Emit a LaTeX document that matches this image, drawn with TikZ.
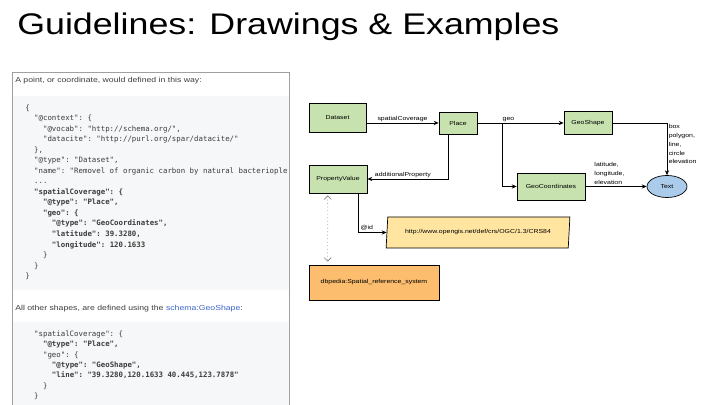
\documentclass[tikz,border=0pt]{standalone}
\usepackage{fontspec}
\setmainfont[FakeStretch=1.2]{Liberation Sans}
\setmonofont{DejaVu Sans Mono}
\usetikzlibrary{shapes.geometric, arrows.meta}

\definecolor{boxgreen}{RGB}{200,226,175}
\definecolor{urlyellow}{RGB}{255,229,160}
\definecolor{dborange}{RGB}{252,190,110}
\definecolor{textblue}{RGB}{170,204,234}
\definecolor{codebg}{RGB}{246,247,248}
\definecolor{panelgray}{RGB}{160,160,160}
\definecolor{linkblue}{RGB}{60,100,200}
\definecolor{prose}{RGB}{60,60,60}

\tikzset{
  classbox/.style={draw, line width=0.5pt, fill=boxgreen, inner sep=0pt, font=\fontsize{4.1}{5}\selectfont},
  conn/.style={draw, line width=0.5pt, -{Stealth[length=3.5pt, width=3pt]}},
  edgelabel/.style={inner sep=1pt, font=\fontsize{4.1}{6.2}\selectfont},
  codeline/.style={anchor=base west, inner sep=0pt, text=prose, font=\ttfamily\fontsize{5.25}{7.4}\selectfont},
  prosetext/.style={anchor=base west, inner sep=0pt, text=prose, font=\fontsize{5.15}{6}\selectfont}
}

\begin{document}
\begin{tikzpicture}[x=0.025cm, y=-0.025cm]

\useasboundingbox (0,0) rectangle (720,405);

\node[anchor=base west, inner sep=0pt, font=\fontsize{21.2}{25}\selectfont] (title) at (17,35) {Guidelines: Drawings \& Examples};

\begin{scope}
\clip (12,72) rectangle (288.5,405);
\fill[codebg] (12,96) rectangle (289,290);
\fill[codebg] (12,322) rectangle (289,410);
\node[prosetext] (intro) at (15,82.5) {A point, or coordinate, would defined in this way:};
\node[prosetext] (other) at (15,310) {All other shapes, are defined using the \textcolor{linkblue}{schema:GeoShape}:};

\foreach \lv/\ln [count=\i from 0] in {
  0/{\{},
  1/{"@context": \{},
  2/{"@vocab": "http://schema.org/",},
  2/{"datacite": "http://purl.org/spar/datacite/"},
  1/{\},},
  1/{"@type": "Dataset",},
  1/{"name": "Removel of organic carbon by natural bacteriople},
  1/{...},
  1/{\bfseries "spatialCoverage": \{},
  2/{\bfseries "@type": "Place",},
  2/{\bfseries "geo": \{},
  3/{\bfseries "@type": "GeoCoordinates",},
  3/{\bfseries "latitude": 39.3280,},
  3/{\bfseries "longitude": 120.1633},
  2/{\}},
  1/{\}},
  0/{\}}}
  \node[codeline] (code\i) at ({25+8.9*\lv},{110.5+10.5*\i}) {\ln};

\foreach \lv/\ln [count=\i from 0] in {
  1/{"spatialCoverage": \{},
  2/{\bfseries "@type": "Place",},
  2/{"geo": \{},
  3/{\bfseries "@type": "GeoShape",},
  3/{\bfseries "line": "39.3280,120.1633 40.445,123.7878"},
  2/{\}},
  1/{\}}}
  \node[codeline] (shape\i) at ({25+8.9*\lv},{336.5+10.3*\i}) {\ln};
\end{scope}
\draw[panelgray, line width=0.6pt] (12,410) -- (12,72) -- (289,72) -- (289,410);

\node[classbox, minimum width=1.425cm, minimum height=0.725cm] (dataset) at (337.5,117.5) {Dataset};
\node[classbox, minimum width=0.95cm, minimum height=0.55cm] (place) at (458,123) {Place};
\node[classbox, minimum width=1.2cm, minimum height=0.575cm] (geoshape) at (588,123) {GeoShape};
\node[classbox, minimum width=1.45cm, minimum height=0.7cm] (propval) at (338,179) {PropertyValue};
\node[classbox, minimum width=1.7cm, minimum height=0.675cm] (geocoord) at (551,186.5) {GeoCoordinates};
\node[draw, line width=0.5pt, ellipse, fill=textblue, inner sep=0pt, minimum width=1cm, minimum height=0.55cm, font=\fontsize{4.1}{5}\selectfont] (text) at (667,186.5) {Text};
\node[draw, line width=0.5pt, trapezium, trapezium left angle=76, trapezium right angle=104, trapezium stretches=true, fill=urlyellow, inner sep=0pt, minimum width=4.6cm, minimum height=0.775cm, font=\fontsize{4.1}{5}\selectfont] (crs) at (478,232.5) {http://www.opengis.net/def/crs/OGC/1.3/CRS84};
\node[classbox, fill=dborange, minimum width=3.25cm, minimum height=0.875cm] (dbp) at (374,282.5) {dbpedia:Spatial\_reference\_system};
\coordinate (geosplit) at (502,123);

\draw[conn] (dataset.east |- place.west) -- node[edgelabel, above] {spatialCoverage} (place.west);
\draw[conn] (place.east) -- node[edgelabel, above, pos=0.36] {geo} (geoshape.west);
\draw[conn] (geosplit) |- (geocoord.west);
\draw[conn] ([xshift=-0.25cm]place.south) |- node[edgelabel, above, pos=0.78] {additionalProperty} (propval.east);
\draw[conn] (geoshape.east) -| node[edgelabel, pos=0.5, anchor=north west, align=left] {box\\polygon,\\line,\\circle\\elevation} (text.north);
\draw[conn] (geocoord.east) -- node[edgelabel, pos=0.12, anchor=south west, align=left, font=\fontsize{4.1}{6.4}\selectfont] {latitude,\\longitude,\\elevation} (text.west);
\draw[conn] ([xshift=-0.225cm]propval.south east) |- node[edgelabel, above, pos=0.65] {@id} (crs.west);
\draw[gray, line width=0.5pt, dotted, {Straight Barb[length=2.5pt, width=5pt]}-{Straight Barb[length=2.5pt, width=5pt]}] ([xshift=0.475cm, yshift=-0.05cm]propval.south west) -- ([xshift=0.475cm, yshift=0.075cm]dbp.north west);

\end{tikzpicture}
\end{document}
